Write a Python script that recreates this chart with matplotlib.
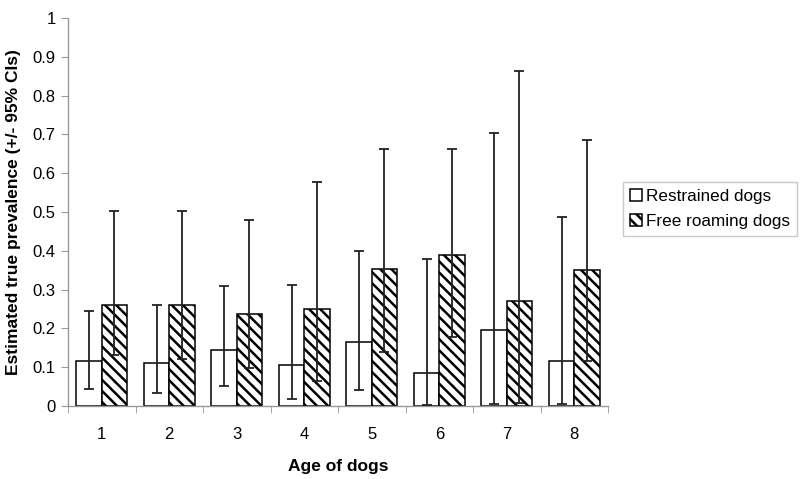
import matplotlib.pyplot as plt
import numpy as np

plt.rcParams['font.family'] = ['Liberation Sans', 'DejaVu Sans']
plt.rcParams['hatch.linewidth'] = 1.8

# data
ages = ['1', '2', '3', '4', '5', '6', '7', '8']
restrained = [0.117, 0.110, 0.144, 0.106, 0.165, 0.086, 0.196, 0.117]
restrained_lo = [0.045, 0.034, 0.052, 0.017, 0.041, 0.002, 0.006, 0.006]
restrained_hi = [0.245, 0.261, 0.309, 0.313, 0.399, 0.379, 0.703, 0.488]
free = [0.261, 0.261, 0.237, 0.251, 0.352, 0.388, 0.271, 0.350]
free_lo = [0.131, 0.122, 0.099, 0.064, 0.139, 0.179, 0.008, 0.117]
free_hi = [0.503, 0.503, 0.479, 0.578, 0.662, 0.662, 0.864, 0.686]

x = np.arange(len(ages))
w = 0.375

fig = plt.figure(figsize=(8, 4.79), dpi=100)
ax = fig.add_axes([0.085, 0.1524, 0.675, 0.81])

ax.bar(x - w / 2, restrained, w, color='white', edgecolor='black', linewidth=1.1,
       label='Restrained dogs', zorder=2)
ax.bar(x + w / 2, free, w, color='white', edgecolor='black', linewidth=1.1,
       hatch='\\\\\\', label='Free roaming dogs', zorder=2)

r_err = [np.array(restrained) - np.array(restrained_lo), np.array(restrained_hi) - np.array(restrained)]
f_err = [np.array(free) - np.array(free_lo), np.array(free_hi) - np.array(free)]
ax.errorbar(x - w / 2, restrained, yerr=r_err, fmt='none', ecolor='#222222',
            elinewidth=1.3, capsize=3.6, capthick=1.3, zorder=3)
ax.errorbar(x + w / 2, free, yerr=f_err, fmt='none', ecolor='#222222',
            elinewidth=1.3, capsize=3.6, capthick=1.3, zorder=3)

ax.set_xlim(-0.5, len(ages) - 0.5)
ax.set_ylim(0, 1)
ax.set_yticks(np.arange(0, 1.01, 0.1))
ax.set_yticklabels(['0', '0.1', '0.2', '0.3', '0.4', '0.5', '0.6', '0.7', '0.8', '0.9', '1'])
ax.set_xticks(x)
ax.set_xticklabels(ages)
ax.set_xticks(np.arange(-0.5, len(ages), 1), minor=True)
ax.tick_params(axis='x', which='major', length=0, labelsize=12, pad=15)
ax.tick_params(axis='x', which='minor', length=5, color='#999999', direction='out')
ax.tick_params(axis='y', length=5, color='#999999', labelsize=12, pad=4)

for s in ['top', 'right']:
    ax.spines[s].set_visible(False)
for s in ['left', 'bottom']:
    ax.spines[s].set_color('#999999')
    ax.spines[s].set_linewidth(1)

ax.set_xlabel('Age of dogs', fontsize=12.5, fontweight='bold', labelpad=12)
ax.set_ylabel('Estimated true prevalence (+/- 95% CIs)', fontsize=12.5, fontweight='bold', labelpad=8)

leg = ax.legend(loc='upper left', bbox_to_anchor=(0.7787, 0.6195), bbox_transform=fig.transFigure,
                fontsize=12.3, frameon=True, fancybox=False, handlelength=0.7, handleheight=0.7,
                handletextpad=0.25, borderpad=0.4, labelspacing=0.6, borderaxespad=0)
leg.get_frame().set_edgecolor('#bbbbbb')
leg.get_frame().set_linewidth(1)

fig.savefig('out.png', dpi=100)
